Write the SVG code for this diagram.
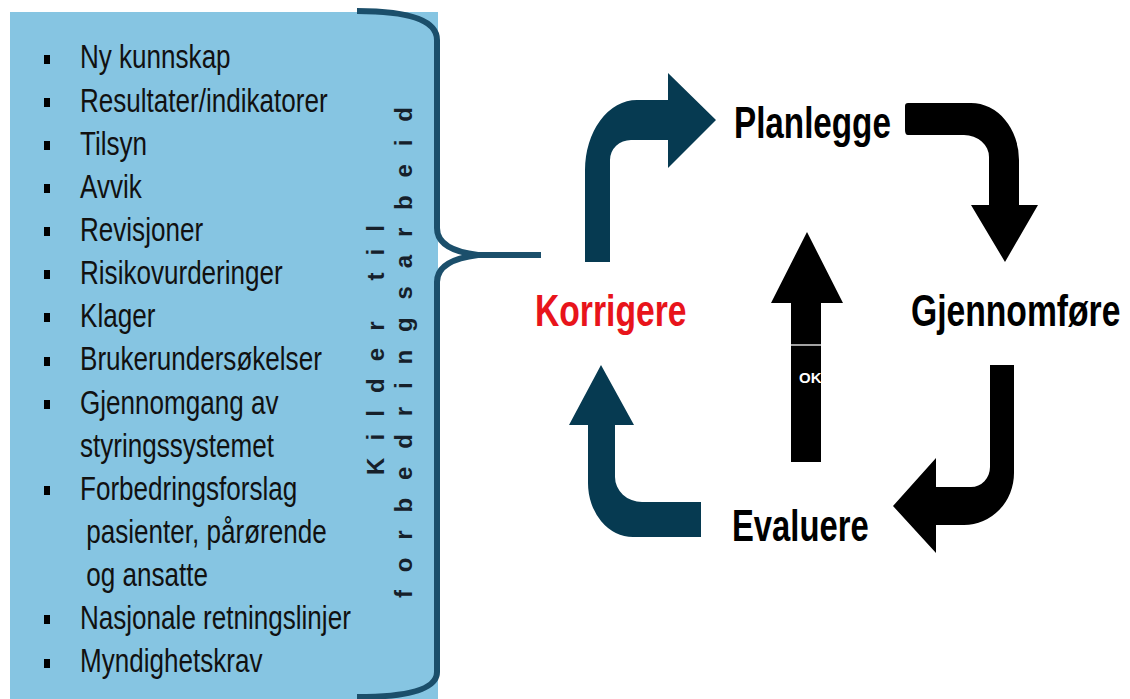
<svg xmlns="http://www.w3.org/2000/svg" width="1130" height="699" viewBox="0 0 1130 699">
<style>
.list{font-family:"Liberation Sans",Arial,sans-serif;font-size:33px;fill:#111}
.vert{font-family:"Liberation Sans",Arial,sans-serif;font-size:24px;font-weight:bold;fill:#16202a}
.stage{font-family:"Liberation Sans",Arial,sans-serif;font-size:44px;font-weight:bold;fill:#000}
.red{fill:#e8141b}
.bul{fill:#000}
.blue{fill:#063a51}
.blk{fill:#000}
.brace{fill:none;stroke:#1b4f6b;stroke-width:6;stroke-linejoin:round;stroke-linecap:butt}
</style>
<rect width="1130" height="699" fill="#fff"/>
<g id="sources">
<rect x="10" y="12" width="428" height="687" fill="#86c5e2"/>
<g id="bullets" class="bul">
<rect x="44" y="55" width="6" height="9"/>
<rect x="44" y="98" width="6" height="9"/>
<rect x="44" y="141" width="6" height="9"/>
<rect x="44" y="184" width="6" height="9"/>
<rect x="44" y="227" width="6" height="9"/>
<rect x="44" y="270" width="6" height="9"/>
<rect x="44" y="313" width="6" height="9"/>
<rect x="44" y="357" width="6" height="9"/>
<rect x="44" y="400" width="6" height="9"/>
<rect x="44" y="486" width="6" height="9"/>
<rect x="44" y="615" width="6" height="9"/>
<rect x="44" y="659" width="6" height="9"/>
</g>
<g transform="translate(80 0) scale(0.79 1)" class="list">
<text x="0" y="68.5">Ny kunnskap</text>
<text x="0" y="111.6">Resultater/indikatorer</text>
<text x="0" y="154.8">Tilsyn</text>
<text x="0" y="197.9">Avvik</text>
<text x="0" y="241.1">Revisjoner</text>
<text x="0" y="284.2">Risikovurderinger</text>
<text x="0" y="327.3">Klager</text>
<text x="0" y="370.5">Brukerundersøkelser</text>
<text x="0" y="413.6">Gjennomgang av</text>
<text x="0" y="456.8">styringssystemet</text>
<text x="0" y="499.9">Forbedringsforslag</text>
<text x="8" y="543">pasienter, pårørende</text>
<text x="8" y="586.2">og ansatte</text>
<text x="0" y="629.3">Nasjonale retningslinjer</text>
<text x="0" y="672.5">Myndighetskrav</text>
</g>
<text class="vert" transform="translate(384 475) rotate(-90)" textLength="250" lengthAdjust="spacing">Kilder til</text>
<text class="vert" transform="translate(412 598) rotate(-90)" textLength="491" lengthAdjust="spacing">forbedringsarbeid</text>
<path class="brace" d="M357,11 Q437,11 437,40 L437,228 Q437,250 478,255 L541,255 M478,255 Q437,260 437,282 L437,672 Q437,697 357,697"/>
</g>
<g id="planlegge"><text class="stage" transform="translate(734 138) scale(0.755 1)">Planlegge</text></g>
<g id="gjennomfore"><text class="stage" transform="translate(911 326) scale(0.765 1)">Gjennomføre</text></g>
<g id="evaluere"><text class="stage" transform="translate(732 541) scale(0.745 1)">Evaluere</text></g>
<g id="korrigere"><text class="stage red" transform="translate(535 326) scale(0.765 1)">Korrigere</text></g>
<g id="connectors">
<path class="blue" d="M585,262 L585,170 A52,70 0 0 1 637,100 L668,100 L668,73 L716,120 L668,168 L668,140 L631,140 A21,20 0 0 0 610,160 L610,262 Z"/>
<path class="blk" d="M908,103 L971,103 A48,57 0 0 1 1019,160 L1019,205 L1038,205 L1005,262 L971,205 L989,205 L989,157 A25,22 0 0 0 964,135 L908,135 Q905,135 905,130 L905,106 Q905,103 908,103 Z"/>
<path class="blk" d="M990,365 L1014,365 L1014,473 A50,52 0 0 1 964,525 L936,525 L936,553 L893,506 L936,458 L936,487 L971,487 A19,20 0 0 0 990,467 Z"/>
<path class="blue" d="M601,365 L634,425 L615,425 L615,477 A27,25 0 0 0 642,502 L701,502 L701,537 L633,537 A45,54 0 0 1 588,483 L588,425 L569,425 Z"/>
<g id="ok-arrow">
<path class="blk" d="M807,232 L843,303 L821,303 L821,462 L791,462 L791,303 L771,303 Z"/>
<line x1="791" y1="345" x2="821" y2="345" stroke="#d8d8d8" stroke-width="1.5"/>
<text x="799" y="383" font-family="'Liberation Sans',Arial,sans-serif" font-size="15" font-weight="bold" fill="#fff">OK</text>
</g>
</g>
</svg>
